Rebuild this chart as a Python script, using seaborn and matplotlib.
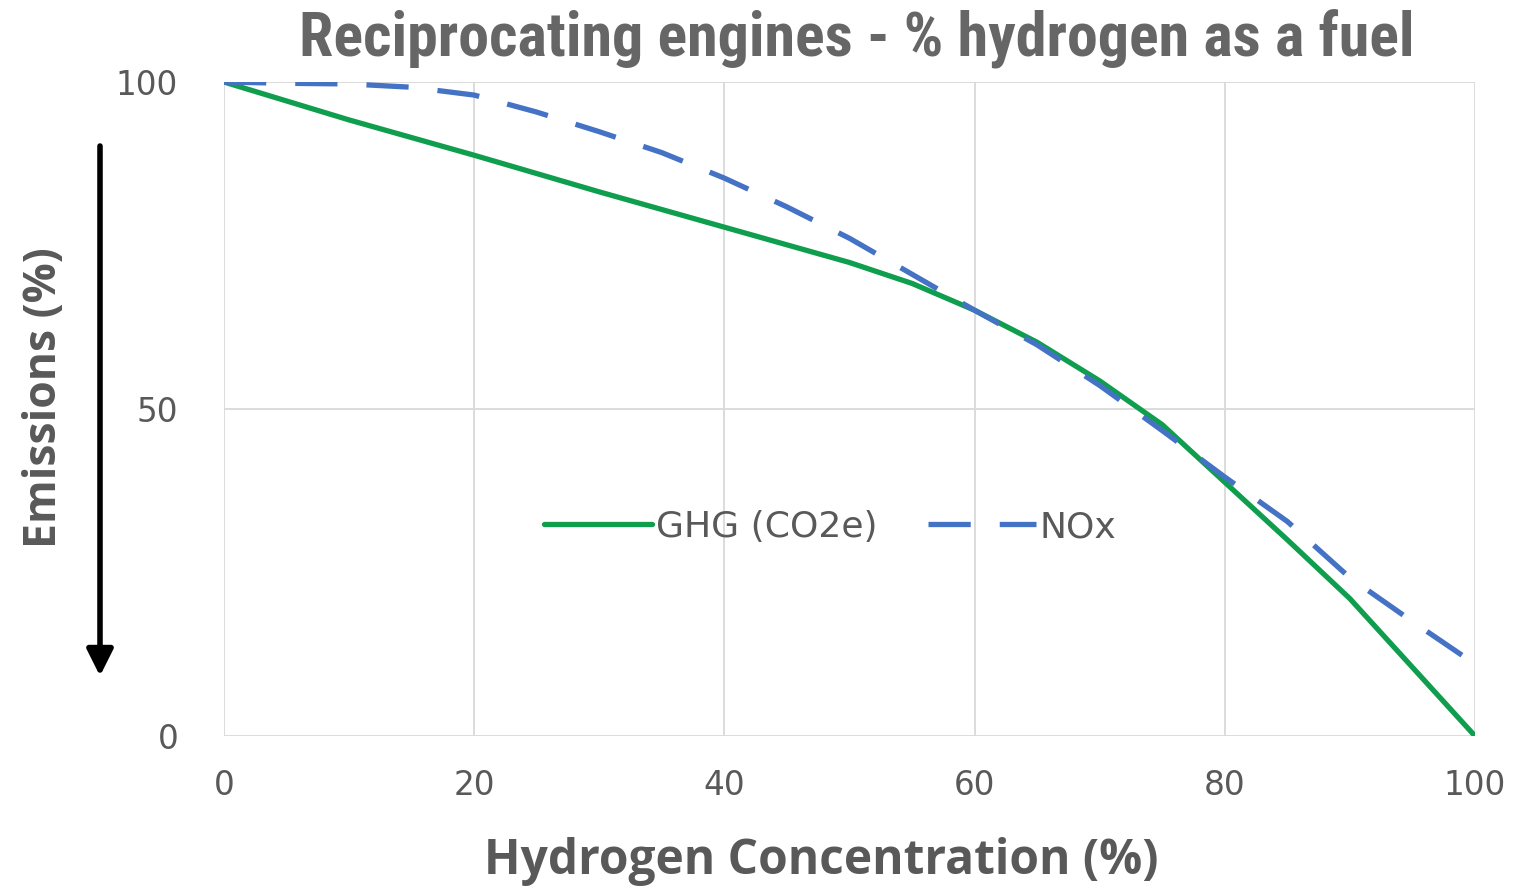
import matplotlib
matplotlib.use("Agg")
import matplotlib.pyplot as plt
from matplotlib import font_manager
import seaborn as sns
import pandas as pd

hydrogen = [0, 5, 10, 15, 20, 25, 30, 35, 40, 45, 50, 55, 60, 65, 70, 75, 80, 85, 90, 95, 100]
ghg = [100, 97.1, 94.2, 91.5, 88.8, 86, 83.2, 80.5, 77.8, 75.1, 72.4, 69.2, 65.1, 60.2,
       54.3, 47.6, 38.8, 30, 21, 10.5, 0]
nox = [100, 99.8, 99.7, 99.2, 98, 95.4, 92.4, 89.2, 85.3, 80.9, 76.1, 70.6, 65.1, 59.8,
       53.6, 46.7, 39.6, 32.8, 24.2, 17.5, 11]
series_names = ["GHG (CO2e)", "NOx"]
x_ticks = [0, 20, 40, 60, 80, 100]
y_ticks = [0, 50, 100]
title_text = "Reciprocating engines - % hydrogen as a fuel"

sns.set_theme(style="white")
plt.rcParams['font.family'] = ['DejaVu Sans']

installed = {f.name for f in font_manager.fontManager.ttflist}
title_family = "Roboto"
for cand in ["Roboto Condensed", "Liberation Sans Narrow", "DejaVu Sans Condensed",
             "Open Sans Condensed", "Noto Sans Condensed"]:
    if cand in installed:
        title_family = cand
        break

W, H = 1517, 892
fig = plt.figure(figsize=(W / 100, H / 100), dpi=100)
ax = fig.add_axes([224 / W, (H - 736) / H, (1475 - 224) / W, (736 - 82) / H])

df_g = pd.DataFrame({"x": hydrogen, "y": ghg})
df_n = pd.DataFrame({"x": hydrogen, "y": nox})
sns.lineplot(data=df_g, x="x", y="y", ax=ax, color="#0F9D4E", lw=3.8, label=series_names[0])
sns.lineplot(data=df_n, x="x", y="y", ax=ax, color="#4472C4", lw=3.8, label=series_names[1])
ax.lines[1].set_dashes((8, 5.5))
for ln in ax.lines:
    ln.set_solid_joinstyle("round")
    ln.set_dash_joinstyle("round")

ax.set_xlim(0, 100)
ax.set_ylim(0, 100)
ax.set_xticks(x_ticks)
ax.set_yticks(y_ticks)
ax.grid(True, color="#d9d9d9", lw=1.3)
for s in ax.spines.values():
    s.set_visible(False)
ax.tick_params(axis="both", length=0, labelsize=23.5, labelcolor="#595959")
ax.tick_params(axis="x", pad=24)
ax.tick_params(axis="y", pad=33)
ax.set_xlabel("")
ax.set_ylabel("")
fig.text(821 / W, 1 - 862 / H, "Hydrogen Concentration (%)", fontsize=34.5, fontweight="bold",
         color="#595959", family=["Open Sans", "DejaVu Sans"], ha="center", va="center")
fig.text(45 / W, 1 - 398 / H, "Emissions (%)", rotation=90, fontsize=32, fontweight="bold",
         color="#595959", family=["Open Sans", "DejaVu Sans"], ha="center", va="center")

leg = ax.legend(loc="center", bbox_to_anchor=((830 - 224) / (1475 - 224), (736 - 527) / (736 - 82)),
                ncol=2, frameon=False, fontsize=26, handlelength=3.0, columnspacing=1.4,
                handletextpad=0.1)
for t in leg.get_texts():
    t.set_color("#595959")

title = fig.text(857 / W, 1 - 38 / H, title_text,
                 fontsize=40, fontweight="bold", color="#666666",
                 family=[title_family, "DejaVu Sans"], ha="center", va="center")
fig.canvas.draw()
bb = title.get_window_extent()
title.set_fontsize(40 * 1115 / bb.width)

ax.annotate("", xy=(100 / W, 1 - 676 / H), xytext=(100 / W, 1 - 146 / H),
            xycoords="figure fraction", textcoords="figure fraction",
            arrowprops=dict(arrowstyle="-|>", lw=4, color="black", mutation_scale=40,
                            shrinkA=0, shrinkB=0))

fig.savefig("out.png", dpi=100, facecolor="white")
